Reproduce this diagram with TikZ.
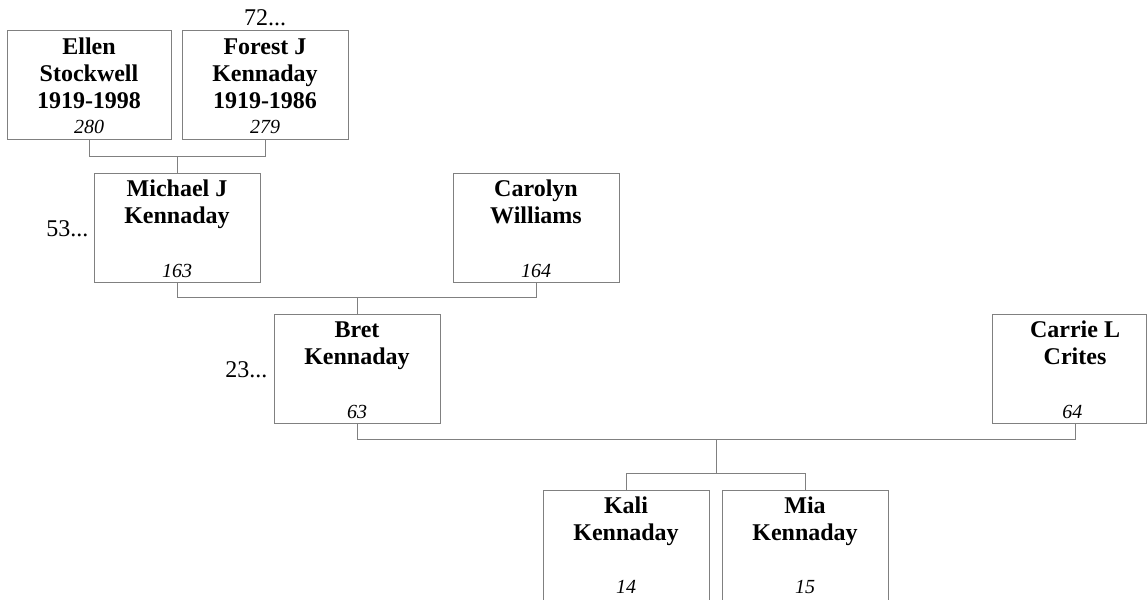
\documentclass[tikz,border=0pt]{standalone}
\usepackage{fontspec}
\setmainfont{Liberation Serif}
\usetikzlibrary{calc}
\definecolor{linegray}{RGB}{128,128,128}
\tikzset{
  box/.style={draw=linegray, line width=1pt, inner sep=0pt, minimum width=166pt, minimum height=109pt, fill=white},
  nm/.style={font=\bfseries\fontsize{24}{27}\selectfont, anchor=base, inner sep=0pt},
  num/.style={font=\itshape\fontsize{20}{24}\selectfont, anchor=base, inner sep=0pt},
  lbl/.style={font=\fontsize{24}{27}\selectfont, inner sep=0pt},
  link/.style={draw=linegray, line width=1pt},
}
\begin{document}
\begin{tikzpicture}[x=1pt, y=-1pt]
\useasboundingbox (0,0) rectangle (1147,599);
\clip (0,0) rectangle (1147,599);
% boxes
\node[box, minimum width=164pt, minimum height=108pt] (ellen) at (89,85) {};
\node[box, minimum height=108pt] (forest) at (265,85) {};
\node[box] (michael) at (177,227.5) {};
\node[box] (carolyn) at (536,227.5) {};
\node[box] (bret) at (357,368.5) {};
\node[box, minimum width=154.5pt] (carrie) at (1069.25,368.5) {};
\node[box, minimum height=120pt] (kali) at (626,550) {};
\node[box, minimum height=120pt] (mia) at (805,550) {};
% texts
\node[nm] (ellen-a) at ([yshift=-24.5pt]ellen.north) {Ellen};
\node[nm] (ellen-b) at ([yshift=-51pt]ellen.north) {Stockwell};
\node[nm] (ellen-c) at ([yshift=-78pt]ellen.north) {1919-1998};
\node[num] (ellen-n) at ([yshift=5.7pt]ellen.south) {280};
\node[nm] (forest-a) at ([yshift=-24.5pt]forest.north) {Forest J};
\node[nm] (forest-b) at ([yshift=-51pt]forest.north) {Kennaday};
\node[nm] (forest-c) at ([yshift=-78pt]forest.north) {1919-1986};
\node[num] (forest-n) at ([yshift=5.7pt]forest.south) {279};
\node[nm] (michael-a) at ([yshift=-24pt]michael.north) {Michael J};
\node[nm] (michael-b) at ([yshift=-51pt]michael.north) {Kennaday};
\node[num] (michael-n) at ([yshift=5.5pt]michael.south) {163};
\node[nm] (carolyn-a) at ([yshift=-24pt]carolyn.north) {Carolyn};
\node[nm] (carolyn-b) at ([yshift=-51pt]carolyn.north) {Williams};
\node[num] (carolyn-n) at ([yshift=5.5pt]carolyn.south) {164};
\node[nm] (bret-a) at ([yshift=-24pt]bret.north) {Bret};
\node[nm] (bret-b) at ([yshift=-51pt]bret.north) {Kennaday};
\node[num] (bret-n) at ([yshift=5.5pt]bret.south) {63};
\node[nm] (carrie-a) at ([xshift=5.75pt,yshift=-24pt]carrie.north) {Carrie L};
\node[nm] (carrie-b) at ([xshift=5.75pt,yshift=-51pt]carrie.north) {Crites};
\node[num] (carrie-n) at ([xshift=3pt,yshift=5.5pt]carrie.south) {64};
\node[nm] (kali-a) at ([yshift=-24pt]kali.north) {Kali};
\node[nm] (kali-b) at ([yshift=-51pt]kali.north) {Kennaday};
\node[num] (kali-n) at ([yshift=-104pt]kali.north) {14};
\node[nm] (mia-a) at ([yshift=-24pt]mia.north) {Mia};
\node[nm] (mia-b) at ([yshift=-51pt]mia.north) {Kennaday};
\node[num] (mia-n) at ([yshift=-104pt]mia.north) {15};
% more-ancestor labels
\node[lbl, anchor=base] (more72) at (265,26) {72...};
\node[lbl, anchor=base east] (more53) at (88.5,236.5) {53...};
\node[lbl, anchor=base east] (more23) at (267.5,377.5) {23...};
% connectors
\coordinate (carrie-s) at ([xshift=5.75pt]carrie.south);
\draw[link] (ellen.south) -- ++(0,17) coordinate (j1a) -| (forest.south);
\coordinate (j1) at ($(j1a)!0.5!(j1a -| forest.south)$);
\draw[link] (j1) -- (michael.north);
\draw[link] (michael.south) -- ++(0,15) coordinate (j2a) -| (carolyn.south);
\coordinate (j2) at (bret.north |- j2a);
\draw[link] (j2) -- (bret.north);
\draw[link] (bret.south) -- ++(0,16) coordinate (j3a) -| (carrie-s);
\coordinate (j3) at ($(j3a)!0.5!(j3a -| carrie-s)$);
\draw[link] (j3) -- ++(0,34) coordinate (j4);
\draw[link] (kali.north) |- (j4) -| (mia.north);
\end{tikzpicture}
\end{document}
